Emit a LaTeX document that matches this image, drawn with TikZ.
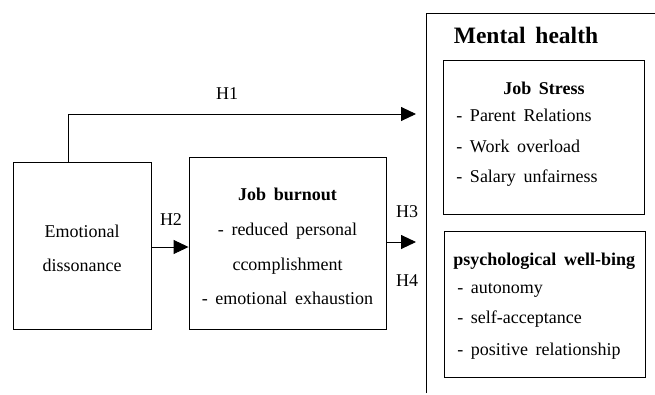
\documentclass[tikz,border=0pt]{standalone}
\usepackage{fontspec}
\setmainfont{Liberation Serif}
\usetikzlibrary{arrows.meta,calc}
\newcommand\mywsp{\spaceskip=0.42em\relax}
\begin{document}
\begin{tikzpicture}[x=1pt,y=-1pt,
  line width=0.9pt,
  box/.style={draw,line width=0.9pt,inner sep=0pt},
  txt/.style={inner sep=0pt,font=\fontsize{18}{20}\selectfont\mywsp},
  btxt/.style={inner sep=0pt,font=\fontsize{18}{20}\selectfont\bfseries\mywsp},
  htxt/.style={inner sep=0pt,font=\fontsize{23.5}{25}\selectfont\bfseries\mywsp},
  arr/.style={-{Triangle[length=15pt,width=14pt]},line width=0.9pt}]
\useasboundingbox (0,0) rectangle (655,394);
% outer frame (open)
\coordinate (fb) at (426,393);
\coordinate (ftl) at (426,13);
\coordinate (fr) at (656,13);
\draw (fb) -- (ftl) -- (fr);
\node[htxt,anchor=base] (mh) at (526,43) {Mental health};
% boxes
\node[box,minimum width=138pt,minimum height=167pt] (ed) at (82,245.5) {};
\node[box,minimum width=197pt,minimum height=172pt] (jb) at (287.5,243) {};
\node[box,minimum width=201pt,minimum height=154pt] (js) at (543.5,137) {};
\node[box,minimum width=201pt,minimum height=146pt] (pw) at (544.5,304) {};
% emotional dissonance
\node[txt,anchor=base] (ed1) at (82,237) {Emotional};
\node[txt,anchor=base] (ed2) at (82,271) {dissonance};
% job burnout
\node[btxt,anchor=base] (jb0) at (287.5,200) {Job burnout};
\node[txt,anchor=base] (jb1) at (287.5,235) {- reduced personal};
\node[txt,anchor=base] (jb2) at (287.5,270) {ccomplishment};
\node[txt,anchor=base] (jb3) at (287.5,304) {- emotional exhaustion};
% job stress
\node[btxt,anchor=base] (js0) at (544,94) {Job Stress};
\node[txt,anchor=base west] (js1) at (456,121) {- Parent Relations};
\node[txt,anchor=base west] (js2) at (456,152) {- Work overload};
\node[txt,anchor=base west] (js3) at (456,182) {- Salary unfairness};
% psychological well-being
\node[btxt,anchor=base west] (pw0) at (453,265) {psychological well-bing};
\node[txt,anchor=base west] (pw1) at (457,293) {- autonomy};
\node[txt,anchor=base west] (pw2) at (457,323) {- self-acceptance};
\node[txt,anchor=base west] (pw3) at (457,355) {- positive relationship};
% connectors
\coordinate (h1tip) at (416,114);
\coordinate (h2y) at (0,247);
\coordinate (h3tip) at (416,242);
\draw[arr] ($(ed.north west)+(56,0)$) |- (h1tip);
\draw[arr] (ed.east |- h2y) -- (jb.west |- h2y);
\draw[arr] (jb.east |- h3tip) -- (h3tip);
% labels
\node[txt,anchor=base] (l1) at (227,99) {H1};
\node[txt,anchor=base] (l2) at (171,225) {H2};
\node[txt,anchor=base] (l3) at (407,217) {H3};
\node[txt,anchor=base] (l4) at (407,286) {H4};
\end{tikzpicture}
\end{document}
